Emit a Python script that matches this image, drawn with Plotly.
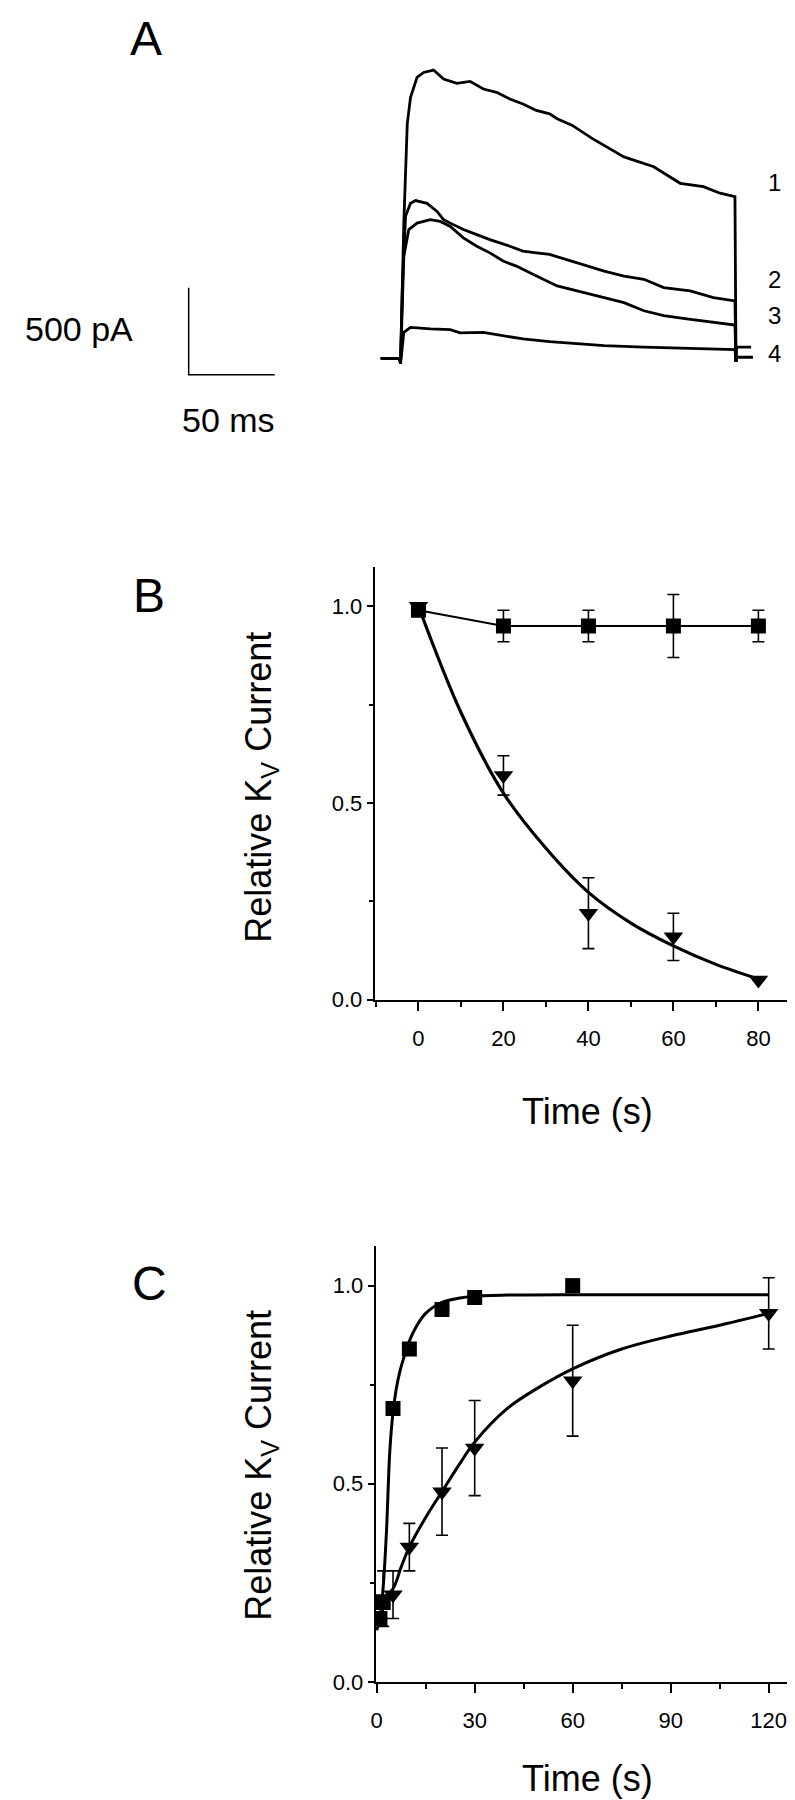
import plotly.graph_objects as go

W, H = 795, 1800
FONT = "Liberation Sans"

# ---------------- Panel A: current traces (t in ms, I in pA) ----------------
t1 = [-11.5, -0.6, 0.0, 1.9, 3.9, 5.8, 9.6, 13.4, 19.2, 25.0, 32.7, 40.4, 48.1, 55.8, 63.5, 71.1,
      78.9, 86.6, 91.0, 99.8, 111.5, 129.8, 147.1, 162.5, 176.0, 185.6, 194.3, 194.9, 195.2, 204.8]
i1 = [0, 0, -29, 778, 1349, 1502, 1616, 1644, 1658, 1606, 1582, 1593, 1549, 1530, 1492, 1463,
      1426, 1406, 1378, 1340, 1264, 1159, 1102, 1007, 988, 950, 931, -20, 7, 7]

t2 = [-11.5, -0.6, 0.0, 1.0, 2.9, 5.8, 8.7, 15.4, 21.2, 25.0, 28.9, 36.5, 44.3, 51.9, 63.5, 71.1,
      78.9, 86.6, 118.3, 129.8, 141.4, 152.9, 168.3, 181.8, 194.3, 194.9]
i2 = [0, 0, -29, 398, 817, 892, 908, 892, 845, 798, 778, 741, 712, 683, 645, 617,
      607, 598, 502, 474, 455, 407, 388, 350, 331, -20]

t3 = [-11.5, -0.6, 0.0, 1.9, 4.8, 9.6, 17.3, 23.1, 28.9, 36.5, 44.3, 51.9, 59.6, 67.3, 76.9,
      86.6, 91.0, 118.3, 129.8, 141.4, 152.9, 166.3, 181.8, 194.3, 194.9]
i3 = [0, 0, -29, 588, 741, 778, 798, 788, 759, 693, 645, 607, 560, 531, 484,
      436, 417, 350, 321, 274, 246, 227, 207, 192, -20]

t4 = [-11.5, -0.6, 0.0, 1.9, 5.8, 17.3, 28.9, 34.6, 48.1, 59.6, 71.1, 86.6, 118.3, 141.4,
      166.3, 194.3, 194.9, 195.2, 203.7]
i4 = [0, 0, -29, 150, 179, 170, 166, 147, 150, 131, 112, 97, 74, 65,
      59, 51, -20, 65, 65]

trace_labels = ["1", "2", "3", "4"]
trace_label_currents = [1010, 455, 245, 30]   # pA level of each label
trace_label_time = 217                          # ms

SCALE_PA = 500
SCALE_MS = 50
scale_origin_t = -123.1   # ms
scale_origin_i = -93      # pA

# ---------------- Panel B: run-down ----------------
b_time = [0, 20, 40, 60, 80]
b_sq = [0.99, 0.95, 0.95, 0.95, 0.95]
b_sq_err = [0.0, 0.04, 0.04, 0.08, 0.04]
b_tri = [1.0, 0.57, 0.22, 0.16, 0.05]
b_tri_err = [0.0, 0.05, 0.09, 0.06, 0.0]
b_fit_t = [0, 10, 20, 30, 40, 50, 60, 70, 80]
b_fit_v = [1.0, 0.73, 0.525, 0.385, 0.273, 0.195, 0.137, 0.09, 0.053]

# ---------------- Panel C: recovery ----------------
c_sq_t = [1, 2, 5, 10, 20, 30, 60]
c_sq = [0.16, 0.2, 0.69, 0.84, 0.94, 0.97, 1.0]
c_tri_t = [2, 5, 10, 20, 30, 60, 120]
c_tri = [0.21, 0.22, 0.34, 0.48, 0.59, 0.76, 0.93]
c_tri_err = [0.07, 0.06, 0.06, 0.11, 0.12, 0.14, 0.09]
c_sqfit_t = [0, 1, 2, 3, 4, 5, 6, 7, 8, 10, 12, 15, 20, 25, 30, 40, 60, 90, 120]
c_sqfit_v = [0.13, 0.16, 0.24, 0.38, 0.58, 0.68, 0.74, 0.78, 0.81, 0.86, 0.895, 0.93, 0.958,
             0.968, 0.973, 0.976, 0.977, 0.977, 0.977]
c_trifit_t = [0, 2, 5, 7.5, 10, 15, 20, 25, 30, 40, 50, 60, 75, 90, 105, 120]
c_trifit_v = [0.205, 0.21, 0.235, 0.29, 0.34, 0.415, 0.48, 0.545, 0.605, 0.69, 0.745, 0.79,
              0.84, 0.873, 0.90, 0.93]


def px(x):
    return x / W


def py(y):
    return 1 - y / H


fig = go.Figure()
BLACK = "black"

# Panel A traces
for tt, ii in [(t1, i1), (t2, i2), (t3, i3), (t4, i4)]:
    fig.add_trace(go.Scatter(x=tt, y=ii, mode="lines", line=dict(color=BLACK, width=2.8),
                             xaxis="x", yaxis="y", showlegend=False, hoverinfo="skip"))
# scale bar
fig.add_trace(go.Scatter(
    x=[scale_origin_t, scale_origin_t, scale_origin_t + SCALE_MS],
    y=[scale_origin_i + SCALE_PA, scale_origin_i, scale_origin_i],
    mode="lines", line=dict(color=BLACK, width=1.5),
    xaxis="x", yaxis="y", showlegend=False, hoverinfo="skip"))

# Panel B
fig.add_trace(go.Scatter(x=b_fit_t, y=b_fit_v, mode="lines",
                         line=dict(color=BLACK, width=3.2, shape="spline", smoothing=1.0),
                         xaxis="x2", yaxis="y2", showlegend=False))
fig.add_trace(go.Scatter(x=b_time, y=b_sq, mode="lines+markers",
                         line=dict(color=BLACK, width=2),
                         marker=dict(symbol="square", size=15, color=BLACK),
                         error_y=dict(type="data", array=b_sq_err, color=BLACK, thickness=1.6, width=6),
                         xaxis="x2", yaxis="y2", showlegend=False))
fig.add_trace(go.Scatter(x=b_time, y=b_tri, mode="markers",
                         marker=dict(symbol="triangle-down", size=17, color=BLACK),
                         error_y=dict(type="data", array=b_tri_err, color=BLACK, thickness=1.6, width=6),
                         xaxis="x2", yaxis="y2", showlegend=False))

# Panel C
fig.add_trace(go.Scatter(x=c_sqfit_t, y=c_sqfit_v, mode="lines",
                         line=dict(color=BLACK, width=3, shape="spline", smoothing=0.8),
                         xaxis="x3", yaxis="y3", showlegend=False))
fig.add_trace(go.Scatter(x=c_trifit_t, y=c_trifit_v, mode="lines",
                         line=dict(color=BLACK, width=3, shape="spline", smoothing=1.0),
                         xaxis="x3", yaxis="y3", showlegend=False))
fig.add_trace(go.Scatter(x=c_sq_t, y=c_sq, mode="markers",
                         marker=dict(symbol="square", size=15, color=BLACK),
                         xaxis="x3", yaxis="y3", showlegend=False))
fig.add_trace(go.Scatter(x=c_tri_t, y=c_tri, mode="markers",
                         marker=dict(symbol="triangle-down", size=17, color=BLACK),
                         error_y=dict(type="data", array=c_tri_err, color=BLACK, thickness=1.6, width=6),
                         xaxis="x3", yaxis="y3", showlegend=False))

tickfont = dict(family=FONT, size=22, color=BLACK)


def xax(domain, rng, dtick, mdtick):
    return dict(domain=domain, range=rng, showline=True, linewidth=2, linecolor=BLACK,
                ticks="outside", ticklen=9, tickwidth=2, tickcolor=BLACK, dtick=dtick, tick0=0,
                minor=dict(ticks="outside", ticklen=5, tickwidth=1.5, tickcolor=BLACK, dtick=mdtick, tick0=0),
                showgrid=False, zeroline=False, tickfont=tickfont, ticklabelstandoff=9,
                fixedrange=True)


def yax(domain, anchor):
    return dict(domain=domain, range=[0, 1.1], showline=True, linewidth=2, linecolor=BLACK,
                ticks="outside", ticklen=6, tickwidth=2, tickcolor=BLACK, dtick=0.5, tick0=0,
                tickformat=".1f",
                minor=dict(ticks="outside", ticklen=4, tickwidth=1.5, tickcolor=BLACK, dtick=0.25, tick0=0),
                showgrid=False, zeroline=False, tickfont=tickfont, anchor=anchor, fixedrange=True)


# pixel-calibrated layout of the three panels
ms_per_px = SCALE_MS / 86.6
pa_per_px = SCALE_PA / 87.6
a_zero_px, a_base_px = 390, 353

layout = dict(
    width=W, height=H, margin=dict(l=0, r=0, t=0, b=0),
    paper_bgcolor="white", plot_bgcolor="rgba(0,0,0,0)",
    xaxis=dict(domain=[0, 1], range=[(0 - a_zero_px) * ms_per_px, (W - a_zero_px) * ms_per_px],
               visible=False, fixedrange=True),
    yaxis=dict(domain=[py(450), 1], range=[(a_base_px - 450) * pa_per_px, a_base_px * pa_per_px],
               visible=False, fixedrange=True),
    xaxis2={**xax([px(364), 1], [-10.3, 90.5], 20, 10), "anchor": "y2"},
    yaxis2=yax([py(999), py(563)], "x2"),
    xaxis3={**xax([px(365), 1], [-0.3, 130.5], 30, 15), "anchor": "y3"},
    yaxis3=yax([py(1686), py(1247)], "x3"),
)
fig.update_layout(**layout)

ann = []


def add_text(text, x, y, size, angle=0):
    ann.append(dict(text=text, x=px(x), y=py(y), xref="paper", yref="paper",
                    xanchor="center", yanchor="middle", showarrow=False, textangle=angle,
                    font=dict(family=FONT, size=size, color=BLACK)))


# trace numbers placed in data coordinates of panel A
for lab, cur in zip(trace_labels, trace_label_currents):
    ann.append(dict(text=lab, x=trace_label_time, y=cur, xref="x", yref="y",
                    xanchor="center", yanchor="middle", showarrow=False,
                    font=dict(family=FONT, size=24, color=BLACK)))

add_text("A", 134, 31, 48)
add_text("B", 137, 592, 48)
add_text("C", 137, 1285, 48)
add_text("500 pA", 66, 323, 34)
add_text("50 ms", 217, 415, 34)
ytitle = "Relative K<sub>V</sub> Current"
add_text(ytitle, 250, 785, 36, -90)
add_text(ytitle, 250, 1468, 36, -90)
add_text("Time (s)", 578, 1112, 36)
add_text("Time (s)", 578, 1783, 36)
fig.update_layout(annotations=ann)

fig.write_html("out.html")
